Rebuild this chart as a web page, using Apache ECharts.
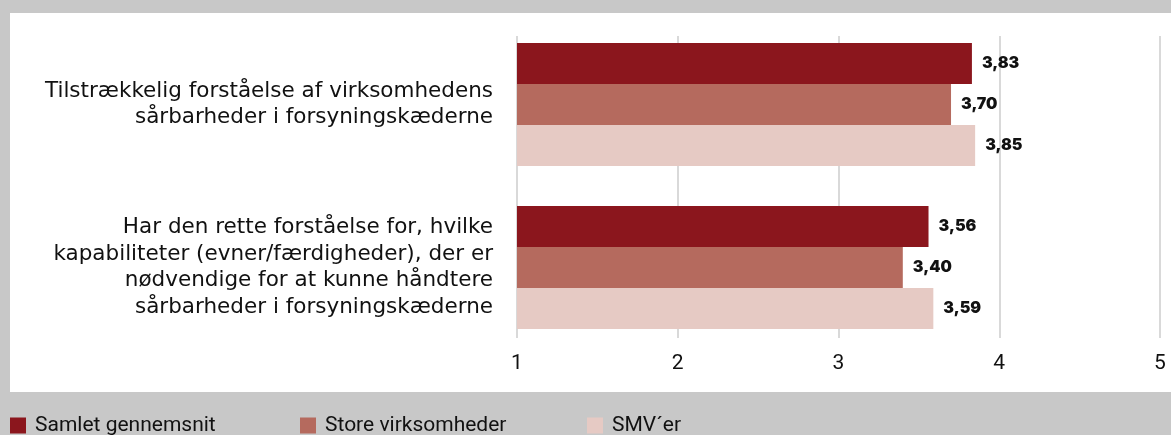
<!DOCTYPE html>
<html>
<head>
<meta charset="utf-8">
<script src="https://cdn.jsdelivr.net/npm/echarts@6/dist/echarts.min.js"></script>
<style>
  html, body { margin: 0; padding: 0; background: #c8c8c8; }
  #chart { width: 1171px; height: 435px; }
</style>
</head>
<body>
<div id="chart"></div>
<script>
// Questions (top to bottom)
const categories = [
  'Tilstrækkelig forståelse af virksomhedens\nsårbarheder i forsyningskæderne',
  'Har den rette forståelse for, hvilke\nkapabiliteter (evner/færdigheder), der er\nnødvendige for at kunne håndtere\nsårbarheder i forsyningskæderne'
];
// Average scores per group
const seriesNames = ['Samlet gennemsnit', 'Store virksomheder', 'SMV´er'];
const samletGennemsnit = [3.83, 3.56];
const storeVirksomheder = [3.70, 3.40];
const smv = [3.85, 3.59];
const xTicks = [1, 2, 3, 4, 5];

const colors = ['#8b161d', '#b56a5e', '#e6cac4'];
const values = [samletGennemsnit, storeVirksomheder, smv];
const legendLefts = [10, 300, 587];

const chart = echarts.init(document.getElementById('chart'));

const tickFont = '"Roboto", sans-serif';

chart.setOption({
  backgroundColor: '#c8c8c8',
  animation: false,
  graphic: [{
    type: 'rect',
    z: -10,
    shape: { x: 10, y: 13, width: 1161, height: 379 },
    style: { fill: '#ffffff' }
  }],
  grid: [
    // bars and labels
    { left: 517, right: 11, top: 23, bottom: 86, containLabel: false },
    // vertical gridlines, slightly shorter than the bar area
    { left: 517, right: 11, top: 36, bottom: 97, containLabel: false, z: -1 }
  ],
  xAxis: [{
    type: 'value',
    gridIndex: 0,
    min: xTicks[0],
    max: xTicks[xTicks.length - 1],
    interval: 1,
    axisLine: { show: false },
    axisTick: { show: false },
    splitLine: { show: false },
    axisLabel: {
      margin: 4,
      fontFamily: tickFont,
      fontSize: 21,
      color: '#111111',
      formatter: v => String(v)
    }
  }, {
    type: 'value',
    gridIndex: 1,
    min: xTicks[0],
    max: xTicks[xTicks.length - 1],
    interval: 1,
    axisLine: { show: false },
    axisTick: { show: false },
    axisLabel: { show: false },
    splitLine: { show: true, lineStyle: { color: '#d9d9d9', width: 2 } }
  }],
  yAxis: [{
    type: 'category',
    gridIndex: 0,
    data: categories,
    inverse: true,
    axisLine: { show: false },
    axisTick: { show: false },
    axisLabel: {
      margin: 24,
      fontFamily: '"DejaVu Sans", sans-serif',
      fontSize: 21.5,
      lineHeight: 26.5,
      color: '#111111',
      align: 'right'
    }
  }, {
    type: 'value',
    gridIndex: 1,
    show: false
  }],
  // one legend block per series so each entry sits at its own column
  legend: seriesNames.map((name, i) => ({
    left: legendLefts[i],
    top: 415,
    padding: 0,
    itemWidth: 16,
    itemHeight: 16,
    icon: 'rect',
    data: [name],
    textStyle: {
      fontFamily: tickFont,
      fontSize: 21,
      color: '#111111',
      padding: [0, 0, 0, 4]
    }
  })),
  series: seriesNames.map((name, i) => ({
    name: name,
    type: 'bar',
    xAxisIndex: 0,
    yAxisIndex: 0,
    data: values[i],
    barWidth: 41,
    barGap: '0%',
    itemStyle: { color: colors[i] },
    label: {
      show: true,
      position: 'right',
      distance: 10,
      fontFamily: '"Inter", "Roboto", sans-serif',
      fontWeight: 900,
      fontSize: 16,
      color: '#111111',
      formatter: p => p.value.toFixed(2).replace('.', ',')
    }
  }))
});
</script>
</body>
</html>
